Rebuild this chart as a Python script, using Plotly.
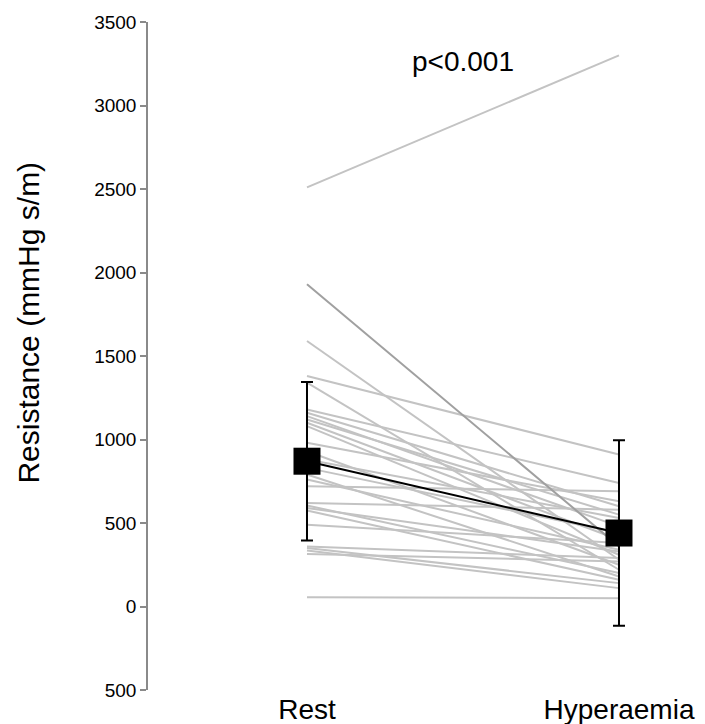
import plotly.graph_objects as go

# Paired resistance per subject (mmHg s/m)
rest = [2510, 1930, 1590, 1380, 1340, 1180, 1160, 1140, 1120, 1100, 1080, 980,
        930, 880, 830, 790, 760, 720, 620, 605, 590, 575, 490, 360, 350, 335, 315, 55]
hyperaemia = [3300, 360, 280, 910, 220, 740, 600, 480, 550, 400, 310, 630,
              250, 530, 440, 180, 340, 690, 580, 200, 330, 160, 380, 290, 140, 110, 270, 50]
highlight_subject = 1  # drawn in a darker grey

# Group summary: mean and SD
conditions = ["Rest", "Hyperaemia"]
group_mean = [870, 440]
group_sd = [475, 555]

y_ticks = [-500, 0, 500, 1000, 1500, 2000, 2500, 3000, 3500]
y_tick_text = ["500", "0", "500", "1000", "1500", "2000", "2500", "3000", "3500"]

x_pos = [1, 2]
font_family = "Liberation Sans, Arial, sans-serif"

fig = go.Figure()

for i, (r, h) in enumerate(zip(rest, hyperaemia)):
    if i == highlight_subject:
        continue
    fig.add_trace(go.Scatter(
        x=x_pos, y=[r, h], mode="lines",
        line=dict(color="#c3c3c3", width=2),
        hoverinfo="skip", showlegend=False,
    ))

fig.add_trace(go.Scatter(
    x=x_pos, y=[rest[highlight_subject], hyperaemia[highlight_subject]], mode="lines",
    line=dict(color="#a0a0a0", width=2),
    hoverinfo="skip", showlegend=False,
))

fig.add_trace(go.Scatter(
    x=x_pos, y=group_mean, mode="lines+markers",
    line=dict(color="black", width=2),
    marker=dict(symbol="square", size=27, color="black"),
    error_y=dict(type="data", array=group_sd, visible=True,
                 color="black", thickness=2, width=6),
    showlegend=False,
))

fig.add_annotation(
    x=1.5, y=3265, xref="x", yref="y", text="p<0.001", showarrow=False,
    font=dict(size=28, color="black", family=font_family),
)

fig.add_annotation(
    x=0, y=1700, xref="paper", yref="y", text="Resistance (mmHg s/m)",
    textangle=-90, showarrow=False, xanchor="center", yanchor="middle",
    xshift=-119,
    font=dict(size=30, color="black", family=font_family),
)

fig.update_layout(
    width=705, height=724,
    margin=dict(l=148, r=15, t=22, b=34, autoexpand=False),
    paper_bgcolor="white", plot_bgcolor="white",
    font=dict(family=font_family, color="black"),
    xaxis=dict(
        range=[0.4904, 2.2276], tickvals=x_pos, ticktext=conditions,
        showline=False, showgrid=False, zeroline=False, ticks="",
        tickfont=dict(size=28, color="black"), automargin=False,
    ),
    yaxis=dict(
        range=[-500, 3500], tickvals=y_ticks, ticktext=y_tick_text,
        showline=True, linecolor="#8a8a8a", linewidth=1.5,
        ticks="outside", ticklen=6, tickcolor="#8a8a8a", tickwidth=1.5,
        showgrid=False, zeroline=False, automargin=False,
        tickfont=dict(size=19, color="black"),
    ),
)

fig.write_html("out.html")
